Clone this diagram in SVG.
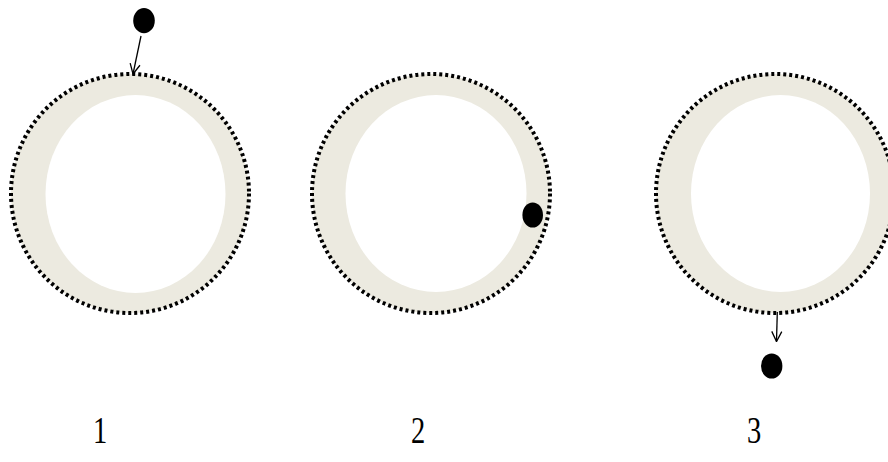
<svg xmlns="http://www.w3.org/2000/svg" width="888" height="462" viewBox="0 0 888 462">
<style>
.ring{fill:#ECEAE0;stroke:#000;stroke-width:4;stroke-dasharray:3 3}
.hole{fill:#fff}
.ball{fill:#000}
.arr{fill:none;stroke:#000;stroke-width:1.3}
.lbl{font-family:"Liberation Serif",serif;font-size:38px;fill:#000;text-anchor:middle}
</style>
<defs>
<marker id="ah" viewBox="0 0 12 12" refX="11" refY="6" markerWidth="12" markerHeight="12" markerUnits="userSpaceOnUse" orient="auto">
<path d="M1,1 L11,6 L1,11" fill="none" stroke="#000" stroke-width="1.3"/>
</marker>
</defs>
<g id="ring1">
<ellipse class="ring" cx="130" cy="193.5" rx="119" ry="119.5"/>
<ellipse class="hole" cx="135.5" cy="194" rx="90" ry="99"/>
</g>
<g id="ring2">
<ellipse class="ring" cx="431" cy="193.5" rx="119" ry="119.5"/>
<ellipse class="hole" cx="436" cy="193.5" rx="90.5" ry="98.5"/>
</g>
<g id="ring3">
<ellipse class="ring" cx="775" cy="193.5" rx="119" ry="119.5"/>
<ellipse class="hole" cx="780.5" cy="193.5" rx="89.5" ry="98.5"/>
</g>
<g id="ball1"><ellipse class="ball" cx="144" cy="20.7" rx="10.8" ry="12.6"/></g>
<g id="ball2"><ellipse class="ball" cx="532.7" cy="215" rx="10.3" ry="12.6"/></g>
<g id="ball3"><ellipse class="ball" cx="771.7" cy="366" rx="10.7" ry="12.6"/></g>
<g id="connectors">
<line class="arr" x1="141" y1="36" x2="133" y2="74" marker-end="url(#ah)"/>
<line class="arr" x1="777.3" y1="312" x2="776.5" y2="341.5" marker-end="url(#ah)"/>
</g>
<g id="labels">
<text class="lbl" transform="translate(100 443) scale(0.75 1)">1</text>
<text class="lbl" transform="translate(418 443) scale(0.75 1)">2</text>
<text class="lbl" transform="translate(754 443) scale(0.75 1)">3</text>
</g>
</svg>
